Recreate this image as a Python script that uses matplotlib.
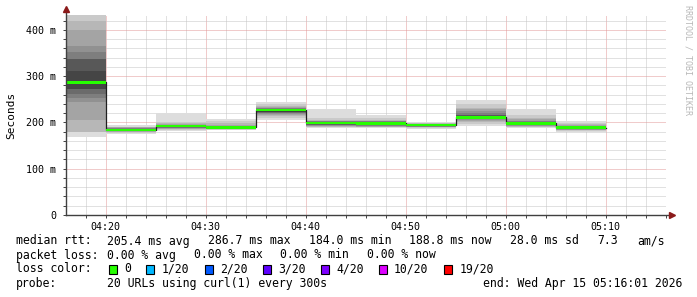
import datetime as dt
import matplotlib
matplotlib.use("Agg")
import matplotlib.pyplot as plt
import matplotlib.dates as mdates
from matplotlib.patches import Rectangle

W, H = 697, 297

# start of every 5 minute step
step_starts = ["04:15", "04:20", "04:25", "04:30", "04:35", "04:40",
               "04:45", "04:50", "04:55", "05:00", "05:05"]
median_rtt = [286.7, 184.0, 192.0, 189.0, 227.0, 199.0,
              198.0, 194.0, 211.0, 198.0, 188.8]
# 20 sorted ping times (ms) for every step
pings = [
    [169, 180, 180, 205, 244, 252, 262, 273, 273, 286,
     288, 312, 338, 338, 352, 366, 400, 420, 432, 445],
    [175, 177, 180, 181, 182, 182.5, 183, 183.5, 184, 184,
     184, 184.5, 185, 186, 187, 188, 189, 190, 191, 194],
    [182.5, 184, 185, 186, 187, 188, 189, 190, 191, 191.5,
     192, 192.5, 193, 193.5, 194, 195, 196, 198, 201, 220],
    [183, 184, 185, 186, 186.5, 187, 187.5, 188, 188.5, 189,
     189, 189.5, 190, 191, 192, 193, 195, 198, 202, 208],
    [205, 210, 214, 217, 219, 220, 221, 222, 223, 225,
     227, 228, 229, 230, 231, 232, 234, 236, 239, 243],
    [188.5, 190, 191, 192, 193, 194, 195, 196, 197, 198,
     199, 199.5, 200, 201, 202, 203, 204, 206, 209, 228],
    [187, 189, 190, 191, 192, 193, 194, 195, 196, 197,
     198, 199, 200, 201, 202, 203, 204, 206, 209, 215],
    [186, 188, 189, 190, 191, 191.5, 192, 192.5, 193, 193.5,
     194, 194.5, 195, 195.5, 196, 196.5, 197, 198, 199, 201],
    [192, 196, 200, 203, 205, 207, 208, 209, 210, 211,
     212, 213, 215, 217, 220, 224, 228, 232, 239, 248],
    [188.5, 190, 191, 192, 193, 194, 195, 196, 197, 197.5,
     198, 199, 200, 201, 202, 204, 207, 210, 215, 228],
    [180, 182, 183, 184, 185, 186, 187, 187.5, 188, 188.5,
     189, 189.5, 190, 191, 192, 193, 194, 196, 199, 204],
]

y_ticks = [0, 100, 200, 300, 400]
y_labels = ["0", "100 m", "200 m", "300 m", "400 m"]

loss_labels = ["0", "1/20", "2/20", "3/20", "4/20", "10/20", "19/20"]
loss_colors = ["#26ff00", "#00b8ff", "#0059ff", "#5e00ff",
               "#7e00ff", "#dd00ff", "#ff0000"]

rtt_items = ["205.4 ms avg", "286.7 ms max", "184.0 ms min",
             "188.8 ms now", "28.0 ms sd", "7.3", "am/s"]
loss_items = ["0.00 % avg", "0.00 % max", "0.00 % min", "0.00 % now"]
probe_text = "20 URLs using curl(1) every 300s"
end_text = "end: Wed Apr 15 05:16:01 2026"

# legend x positions in pixels
rtt_x = [107, 208, 309, 409, 510, 597, 637]
loss_x = [107, 194, 280, 367]
box_x = [108.5, 146, 205, 263, 321, 378.5, 444]

day = dt.date(2026, 4, 15)


def t(hm):
    h, m = hm.split(":")
    return dt.datetime.combine(day, dt.time(int(h), int(m)))


starts = [mdates.date2num(t(s)) for s in step_starts]
step = 5 / 1440.0
t_end = mdates.date2num(dt.datetime(2026, 4, 15, 5, 16, 1))
t_begin = t_end - 60 / 1440.0

plt.rcParams["font.family"] = "DejaVu Sans Mono"
fig = plt.figure(figsize=(W / 100, H / 100), dpi=100)
fig.patch.set_facecolor("white")
ax = fig.add_axes([66 / W, (H - 215) / H, 600 / W, 200 / H])
ax.set_xlim(t_begin, t_end)
ax.set_ylim(0, 432)

# smoke: layer i spans ping i .. ping 19-i, darker towards the middle
half = 10
for i in range(half):
    shade = int(190 / half * (half - i - 1)) + 50
    col = "#%02x%02x%02x" % (shade, shade, shade)
    for x0, p in zip(starts, pings):
        ax.bar(x0, p[19 - i] - p[i], bottom=p[i], width=step, align="edge",
               color=col, linewidth=0, zorder=2)

# median line with steps and the loss coloured band
xs = starts + [starts[-1] + step]
ys = median_rtt + [median_rtt[-1]]
ax.step(xs, ys, where="post", color="#202020", lw=0.9, zorder=3)
swidth = 432 / 200.0 * 1.3
for x0, m in zip(starts, median_rtt):
    ax.bar(x0, 2 * swidth, bottom=m - swidth, width=step, align="edge",
           color=loss_colors[0], linewidth=0, zorder=4)

# grid
ax.xaxis.set_major_locator(mdates.MinuteLocator(byminute=range(0, 60, 10)))
ax.xaxis.set_minor_locator(mdates.MinuteLocator(byminute=range(0, 60, 2)))
ax.xaxis.set_major_formatter(mdates.DateFormatter("%H:%M"))
ax.set_yticks(y_ticks)
ax.set_yticklabels(y_labels)
ax.set_yticks(range(0, 432, 20), minor=True)
ax.grid(which="minor", color="#c4c4c4", lw=0.72, ls=(0, (1, 1)), zorder=5)
ax.grid(which="major", color="#e29898", lw=0.72, ls=(0, (1, 1)), zorder=6)
ax.tick_params(which="both", length=2, width=0.7, color="#404040",
               labelsize=7.2, pad=3)
ax.tick_params(axis="y", which="major", pad=5)
for s in ax.spines.values():
    s.set_visible(False)

# axes with arrow heads
ax.plot([0, 1.01], [0, 0], transform=ax.transAxes, color="#404040",
        lw=1, clip_on=False, zorder=7)
ax.plot([0, 0], [0, 1.03], transform=ax.transAxes, color="#404040",
        lw=1, clip_on=False, zorder=7)
ax.plot([1.01], [0], transform=ax.transAxes, marker=">", ms=4,
        color="#8b1a1a", clip_on=False, zorder=8)
ax.plot([0], [1.03], transform=ax.transAxes, marker="^", ms=4,
        color="#8b1a1a", clip_on=False, zorder=8)


def px(x, y):
    return x / W, 1 - y / H


fig.text(*px(11, 115), "Seconds", rotation=90, ha="center", va="center",
         fontsize=8)
fig.text(*px(688, 60), "RRDTOOL / TOBI OETIKER", rotation=270,
         ha="center", va="center", fontsize=6, color="#b8b8b8")

fs = 8.3
fig.text(*px(16, 241), "median rtt:", ha="left", va="center", fontsize=fs)
for lab, x in zip(rtt_items, rtt_x):
    fig.text(*px(x, 241), lab, ha="left", va="center", fontsize=fs)
fig.text(*px(16, 255), "packet loss:", ha="left", va="center", fontsize=fs)
for lab, x in zip(loss_items, loss_x):
    fig.text(*px(x, 255), lab, ha="left", va="center", fontsize=fs)
fig.text(*px(16, 269), "loss color:", ha="left", va="center", fontsize=fs)
fig.text(*px(16, 283), "probe:", ha="left", va="center", fontsize=fs)
fig.text(*px(107, 283), probe_text, ha="left", va="center", fontsize=fs)
fig.text(*px(682, 283), end_text, ha="right", va="center", fontsize=fs)

for lab, col, x in zip(loss_labels, loss_colors, box_x):
    bx, by = px(x, 273.5)
    fig.patches.append(Rectangle((bx, by), 8 / W, 9 / H, transform=fig.transFigure,
                                 facecolor=col, edgecolor="black", lw=0.8))
    fig.text(*px(x + 15.5, 269), lab, ha="left", va="center", fontsize=fs)

fig.savefig("out.png", dpi=100, facecolor="white")
